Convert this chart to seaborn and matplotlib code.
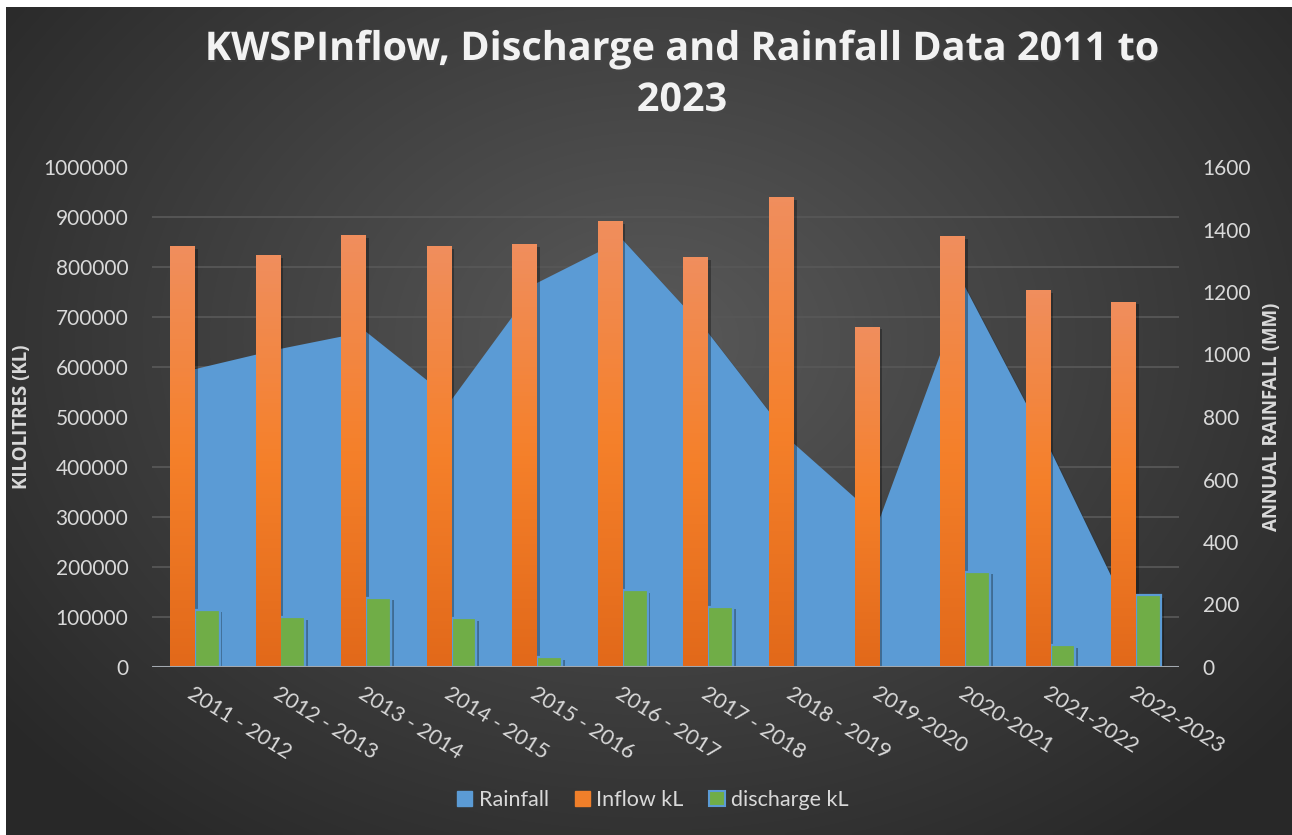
import numpy as np
import pandas as pd
import matplotlib
matplotlib.use("Agg")
import matplotlib.pyplot as plt
import matplotlib.patheffects as pe
from matplotlib.colors import LinearSegmentedColormap
from matplotlib.patches import Patch
import seaborn as sns

# Datos
seasons = ["2011 - 2012", "2012 - 2013", "2013 - 2014", "2014 - 2015", "2015 - 2016",
           "2016 - 2017", "2017 - 2018", "2018 - 2019", "2019-2020", "2020-2021",
           "2021-2022", "2022-2023"]
rainfall_mm = [953, 1018, 1073, 855, 1229, 1367, 1069, 715, 472, 1216, 693, 125]
inflow_kl = [842000, 824000, 864000, 842000, 846000, 892000, 820000, 940000,
             681000, 862000, 754000, 731000]
discharge_kl = [115000, 100000, 139000, 98000, 20000, 154000, 121000, 0, 0,
                191000, 44000, 144000]

BLUE = "#5b9bd5"
ORANGE = "#f07f2a"
GREEN = "#70ad47"
TXT = "#d9d9d9"

sns.set_theme(style="dark")
plt.rcParams["font.family"] = ["Lato", "DejaVu Sans"]

W, H = 1292, 835
fig = plt.figure(figsize=(W / 100, H / 100), dpi=100, facecolor="white")

# fondo con degradado radial (estilo Excel)
bg = fig.add_axes([6 / W, 0, 1 - 6 / W, 1 - 7 / H])
yy, xx = np.mgrid[0:200, 0:300]
r = np.sqrt(((xx - 150) / 190) ** 2 + ((yy - 80) / 150) ** 2)
shade = 0.35 - 0.19 * np.clip(r, 0, 1)
bg.imshow(np.dstack([shade] * 3), aspect="auto", interpolation="bilinear")
bg.axis("off")

rect = [152 / W, 1 - 667 / H, (1179 - 152) / W, (667 - 167) / H]
ax_rain = fig.add_axes(rect)
ax_rain.patch.set_alpha(0)
ax_bars = ax_rain.twinx()

# area de lluvia (eje derecho)
x = np.arange(len(seasons))
ax_rain.fill_between(x, rainfall_mm, 0, color=BLUE, lw=0, zorder=2,
                     path_effects=[pe.withSimplePatchShadow(offset=(1.5, -1.5), alpha=0.35)])
ax_rain.set_ylim(0, 1600)
ax_rain.set_yticks(np.arange(0, 1601, 200))
ax_rain.set_yticks(np.arange(0, 1601, 160), minor=True)
ax_rain.grid(False)
ax_rain.grid(True, which="minor", axis="y", color="#575757", lw=1.3, zorder=0)
ax_rain.yaxis.tick_right()
ax_rain.yaxis.set_label_position("right")
ax_rain.tick_params(axis="y", which="both", length=0, pad=17, labelsize=15, labelcolor=TXT)
ax_rain.set_ylabel("ANNUAL RAINFALL (MM)", color=TXT, fontsize=13.5, fontweight="bold",
                   family=["Open Sans", "DejaVu Sans"], labelpad=8)

# barras (eje izquierdo)
df = pd.DataFrame({"season": seasons * 2,
                   "kl": inflow_kl + discharge_kl,
                   "series": ["Inflow kL"] * len(seasons) + ["discharge kL"] * len(seasons)})
sns.barplot(data=df, x="season", y="kl", hue="series", hue_order=["Inflow kL", "discharge kL"],
            palette=[ORANGE, GREEN], width=0.58, saturation=1, errorbar=None,
            legend=False, ax=ax_bars, zorder=3)

shadow = [pe.withSimplePatchShadow(offset=(2, -2), shadow_rgbFace="black", alpha=0.3)]
orange_cmap = LinearSegmentedColormap.from_list("og", ["#e2691a", "#f5802a", "#f08e5d"])
grad = np.linspace(0, 1, 100).reshape(-1, 1)
for p in ax_bars.containers[0]:
    p.set_linewidth(0)
    p.set_path_effects(shadow)
    x0, w, h = p.get_x(), p.get_width(), p.get_height()
    im = ax_bars.imshow(grad, extent=[x0, x0 + w, 0, h], origin="lower", aspect="auto",
                        cmap=orange_cmap, zorder=3.1)
    im.set_clip_path(p)
for p, v in zip(ax_bars.containers[1], discharge_kl):
    if v > 0:
        p.set_edgecolor(BLUE)
        p.set_linewidth(1.6)
        p.set_path_effects(shadow)
    else:
        p.set_linewidth(0)

ax_bars.axhline(0, color="#a3a9b0", lw=2.2, zorder=5)
ax_bars.set_xlim(-0.5, len(seasons) - 0.5)
ax_bars.set_ylim(0, 1000000)
ax_bars.set_yticks(np.arange(0, 1000001, 100000))
ax_bars.set_yticklabels([f"{v:.0f}" for v in np.arange(0, 1000001, 100000)])
ax_bars.yaxis.tick_left()
ax_bars.yaxis.set_label_position("left")
ax_bars.tick_params(axis="y", length=0, pad=17, labelsize=15, labelcolor=TXT)
ax_bars.set_ylabel("KILOLITRES (KL)", color=TXT, fontsize=13.5, fontweight="bold",
                   family=["Open Sans", "DejaVu Sans"], labelpad=8)
ax_bars.set_xlabel("")
ax_bars.grid(False)

ax_rain.set_xlim(-0.5, len(seasons) - 0.5)
ax_rain.set_xticks(x)
ax_rain.set_xticklabels(seasons, rotation=-32, ha="left", va="top", rotation_mode="anchor")
ax_rain.tick_params(axis="x", length=0, pad=12, labelsize=15.5, labelcolor=TXT)

for a in (ax_rain, ax_bars):
    for s in a.spines.values():
        s.set_visible(False)

# titulo
fig.text(682 / W, 1 - 75 / H, "KWSPInflow, Discharge and Rainfall Data 2011 to\n2023",
         ha="center", va="center", color="#f2f2f2", fontsize=28.5, fontweight="bold",
         family=["Open Sans", "DejaVu Sans"], linespacing=1.4,
         path_effects=[pe.withSimplePatchShadow(offset=(1, -1.5), alpha=0.5)])

handles = [Patch(facecolor=BLUE, edgecolor=BLUE),
           Patch(facecolor=ORANGE, edgecolor=ORANGE),
           Patch(facecolor=GREEN, edgecolor=BLUE, linewidth=1.5)]
fig.legend(handles, ["Rainfall", "Inflow kL", "discharge kL"], loc="center",
           bbox_to_anchor=(653 / W, 1 - 800 / H), ncol=3, frameon=False, fontsize=15.5,
           labelcolor=TXT, handlelength=0.7, handleheight=0.7, handletextpad=0.3,
           columnspacing=1.2)

fig.savefig("out.png", dpi=100, facecolor="white")
